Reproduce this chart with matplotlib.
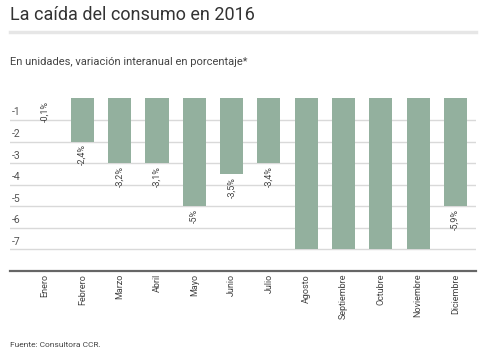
import matplotlib.pyplot as plt
from matplotlib.lines import Line2D

plt.rcParams["font.family"] = ["Roboto", "DejaVu Sans"]

months = ["Enero", "Febrero", "Marzo", "Abril", "Mayo", "Junio", "Julio",
          "Agosto", "Septiembre", "Octubre", "Noviembre", "Diciembre"]
# bar lengths as drawn in the original chart
bar_values = [0, -2, -3, -3, -5, -3.5, -3, -7, -7, -7, -7, -5]
bar_labels = ["-0,1%", "-2,4%", "-3,2%", "-3,1%", "-5%", "-3,5%", "-3,4%",
              "", "", "", "", "-5,9%"]
y_ticks = [-1, -2, -3, -4, -5, -6, -7]

bar_color = "#93b09e"
text_color = "#333333"

fig = plt.figure(figsize=(4.8, 3.55), dpi=100)
fig.patch.set_facecolor("white")

# header
fig.text(10 / 480, 1 - 15 / 355, "La caída del consumo en 2016",
         fontsize=13, color=text_color, va="center", ha="left")
fig.add_artist(Line2D([10 / 480, 476 / 480], [1 - 32 / 355, 1 - 32 / 355],
                      color="#e6e6e6", lw=2.5, transform=fig.transFigure))
fig.text(10 / 480, 1 - 62 / 355, "En unidades, variación interanual en porcentaje*",
         fontsize=8, color="#444444", va="center", ha="left")
fig.text(10 / 480, 1 - 345 / 355, "Fuente: Consultora CCR.",
         fontsize=6, color="#444444", va="center", ha="left")

ax = fig.add_axes([10 / 480, 1 - 271 / 355, 466 / 480, 172.6 / 355])
x = list(range(len(months)))

for v in y_ticks:
    ax.axhline(v, color="#d9d9d9", lw=1, zorder=1)
    ax.text(0.003, v + 0.12, str(v), transform=ax.get_yaxis_transform(),
            fontsize=7.5, color="#555555", ha="left", va="bottom")

ax.bar(x, bar_values, width=0.62, color=bar_color, zorder=2)

for xi, v, lab in zip(x, bar_values, bar_labels):
    if lab:
        ax.annotate(lab, (xi, v), xytext=(0, -2), textcoords="offset points",
                    rotation=90, ha="center", va="top", fontsize=6.5,
                    color="#444444")

ax.set_xlim(-0.94, 11.55)
ax.set_ylim(-8, 0)
ax.set_xticks(x)
ax.set_xticklabels(months, rotation=90, fontsize=6.5, color="#444444",
                   va="top", ha="center")
ax.tick_params(axis="x", length=0, pad=2)
ax.set_yticks([])
for side in ["top", "left", "right"]:
    ax.spines[side].set_visible(False)
ax.spines["bottom"].set_color("#666666")
ax.spines["bottom"].set_linewidth(1.6)
ax.set_facecolor("white")

fig.savefig("out.png", dpi=100)
